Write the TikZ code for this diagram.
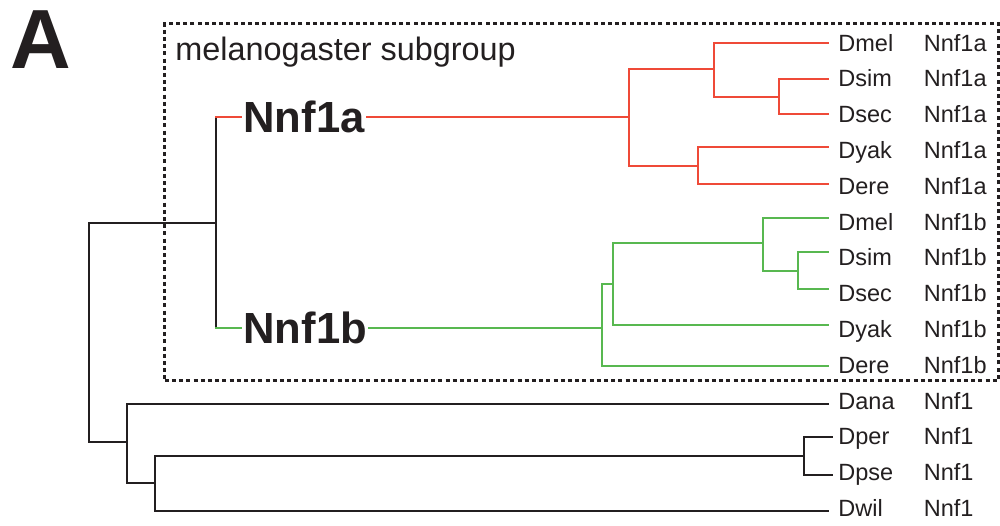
\documentclass[tikz,border=0pt]{standalone}
\usepackage{fontspec}
\setmainfont{Liberation Sans}
\definecolor{tred}{RGB}{239,74,56}
\definecolor{tgreen}{RGB}{88,184,80}
\definecolor{tblack}{RGB}{35,31,32}
\begin{document}
\begin{tikzpicture}[x=0.5pt,y=-0.5pt,
  every node/.style={text=tblack},
  branch/.style={line width=1pt,line join=miter,line cap=rect},
  redbr/.style={branch,draw=tred},
  greenbr/.style={branch,draw=tgreen},
  blackbr/.style={branch,draw=tblack},
  species/.style={anchor=base west,inner sep=0pt,font=\fontsize{11.75pt}{12pt}\selectfont},
  gene/.style={species},
  biglabel/.style={anchor=west,inner xsep=1pt,inner ysep=0pt,font=\bfseries\fontsize{21.8pt}{22pt}\selectfont},
  subbox/.style={draw=tblack,line width=1.4pt,dash pattern=on 2pt off 1.6pt}]
\useasboundingbox (0,0) rectangle (1000,525);

% panel letter and box
\node[anchor=base west,inner sep=0pt,font=\bfseries\fontsize{42pt}{42pt}\selectfont] (panel) at (10,68) {A};
\node[subbox,anchor=north west,minimum width=416.7pt,minimum height=178.6pt,inner sep=0pt] (sub) at (163.3,22) {};
\node[anchor=base west,inner sep=0pt,font=\fontsize{16.2pt}{17pt}\selectfont] (subtitle) at (175,60) {melanogaster subgroup};

% leaf labels
\foreach \n/\sp/\g [count=\k from 0] in {la1/Dmel/Nnf1a,la2/Dsim/Nnf1a,la3/Dsec/Nnf1a,la4/Dyak/Nnf1a,la5/Dere/Nnf1a,
    lb1/Dmel/Nnf1b,lb2/Dsim/Nnf1b,lb3/Dsec/Nnf1b,lb4/Dyak/Nnf1b,lb5/Dere/Nnf1b,
    lo1/Dana/Nnf1,lo2/Dper/Nnf1,lo3/Dpse/Nnf1,lo4/Dwil/Nnf1}{
  \node[species] (s-\n) at (838,{42.7+35.8*\k+8.4}) {\sp};
  \node[gene] (g-\n) at (923.5,{42.7+35.8*\k+8.4}) {\g};
}

% leaf line ends
\coordinate (e-la1) at (828,42.7);
\coordinate (e-la2) at (828,79.3);
\coordinate (e-la3) at (828,114.3);
\coordinate (e-la4) at (828,147);
\coordinate (e-la5) at (828,184);
\coordinate (e-lb1) at (828,217.7);
\coordinate (e-lb2) at (828,252.3);
\coordinate (e-lb3) at (828,289);
\coordinate (e-lb4) at (828,324.5);
\coordinate (e-lb5) at (828,365.5);
\coordinate (e-lo1) at (828,403.5);
\coordinate (e-lo2) at (832,436.7);
\coordinate (e-lo3) at (832,475);
\coordinate (e-lo4) at (828,510.7);

% big paralog labels
\node[biglabel] (nnf1a) at (241,117) {Nnf1a};
\node[biglabel] (nnf1b) at (241,328.3) {Nnf1b};

% internal nodes
\coordinate (r0) at (629,117);
\coordinate (r1) at (714,69);
\coordinate (r2) at (778.7,96.8);
\coordinate (r3) at (698,165.5);
\coordinate (g0) at (602,328.3);
\coordinate (g1) at (613.3,284);
\coordinate (g2) at (762.7,243.3);
\coordinate (g3) at (797.7,270.6);
\coordinate (b1) at (216,222.5);
\coordinate (root) at (89,330);
\coordinate (b2) at (126.7,442.3);
\coordinate (b3) at (155,483);
\coordinate (b4) at (804.3,455.8);

% red clade
\draw[redbr] (nnf1a) -- (r0);
\draw[redbr] (r0) |- (r1);
\draw[redbr] (r0) |- (r3);
\draw[redbr] (r1) |- (e-la1);
\draw[redbr] (r1) |- (r2);
\draw[redbr] (r2) |- (e-la2);
\draw[redbr] (r2) |- (e-la3);
\draw[redbr] (r3) |- (e-la4);
\draw[redbr] (r3) |- (e-la5);

% green clade
\draw[greenbr] (nnf1b) -- (g0);
\draw[greenbr] (g0) |- (g1);
\draw[greenbr] (g0) |- (e-lb5);
\draw[greenbr] (g1) |- (g2);
\draw[greenbr] (g1) |- (e-lb4);
\draw[greenbr] (g2) |- (e-lb1);
\draw[greenbr] (g2) |- (g3);
\draw[greenbr] (g3) |- (e-lb2);
\draw[greenbr] (g3) |- (e-lb3);

% duplication node
\draw[blackbr] (b1 |- nnf1a) -- (b1 |- nnf1b);
\draw[redbr] (b1 |- nnf1a) -- (nnf1a);
\draw[greenbr] (b1 |- nnf1b) -- (nnf1b);

% outgroups
\draw[blackbr] (root) |- (b1);
\draw[blackbr] (root) |- (b2);
\draw[blackbr] (b2) |- (e-lo1);
\draw[blackbr] (b2) |- (b3);
\draw[blackbr] (b3) |- (b4);
\draw[blackbr] (b3) |- (e-lo4);
\draw[blackbr] (b4) |- (e-lo2);
\draw[blackbr] (b4) |- (e-lo3);
\end{tikzpicture}
\end{document}
